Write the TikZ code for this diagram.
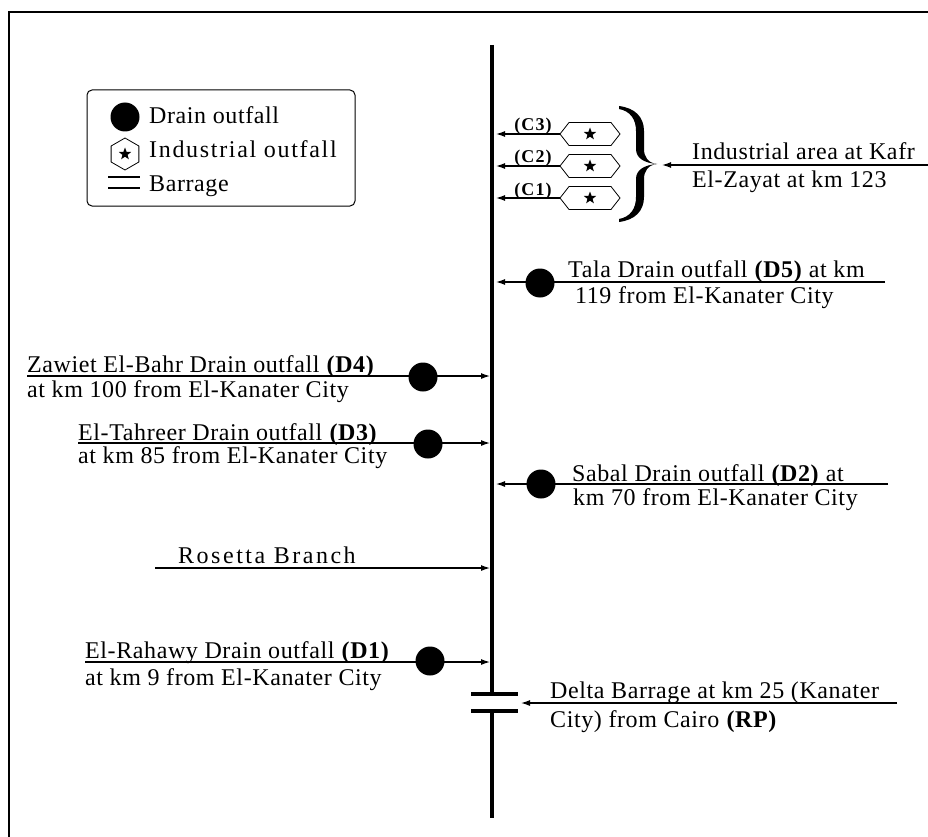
\documentclass[tikz,border=0pt]{standalone}
\usepackage{fontspec}
\setmainfont[LetterSpace=2.5]{Liberation Serif}
\usetikzlibrary{arrows.meta,shapes.geometric,decorations.pathreplacing}
\tikzset{
  txt/.style={anchor=base west, inner sep=0pt},
  drain/.style={circle, fill=black, minimum size=29pt, inner sep=0pt},
  starm/.style={star, star points=5, star point ratio=2.4, fill=black, minimum size=13pt, inner sep=0pt},
  hexv/.style={regular polygon, regular polygon sides=6, shape border rotate=90, draw, line width=0.8pt, minimum size=32pt, inner sep=0pt},
  arr/.style={-{Latex[length=9pt,width=6pt]}, line width=1.2pt},
  mainln/.style={line width=4pt},
  clab/.style={anchor=base, inner sep=0pt, font=\fontsize{18}{20}\selectfont\bfseries\addfontfeature{LetterSpace=6}},
  indhex/.pic={
    \draw[line width=0.8pt] (-30,0) -- (-21,-11.5) -- (21,-11.5) -- (30,0) -- (21,11.5) -- (-21,11.5) -- cycle;
    \node[starm] at (0,0) {};
  },
  bracepic/.pic={
    \fill (-37,-58) .. controls (-21,-56) and (-12,-47) .. (-12,-33) -- (-12,-15)
      .. controls (-12,-7) and (-8,-1) .. (1,0)
      .. controls (-12,-1) and (-20,-6) .. (-20,-15) -- (-20,-33)
      .. controls (-20,-45) and (-26,-53) .. (-37,-55) -- cycle;
    \fill[yscale=-1] (-37,-58) .. controls (-21,-56) and (-12,-47) .. (-12,-33) -- (-12,-15)
      .. controls (-12,-7) and (-8,-1) .. (1,0)
      .. controls (-12,-1) and (-20,-6) .. (-20,-15) -- (-20,-33)
      .. controls (-20,-45) and (-26,-53) .. (-37,-55) -- cycle;
  }
}
\begin{document}
\begin{tikzpicture}[x=1pt,y=-1pt,font=\fontsize{24}{28}\selectfont]
\useasboundingbox (0,0) rectangle (928,837);
\draw[line width=1.2pt] (9,837) -- (9,12) -- (928,12);

% legend
\draw[line width=1pt, rounded corners=5pt] (87,90) rectangle (355,206);
\node[drain] (lgD) at (125,117) {};
\node[txt] (lgDt) at (149,124) {Drain outfall};
\node[hexv] (lgH) at (125,154) {};
\node[starm] (lgS) at (lgH) {};
\node[txt] (lgHt) at (149,158) {\addfontfeature{LetterSpace=7}Industrial outfall};
\draw[line width=1.3pt] (108,177) -- (140,177);
\draw[line width=2.6pt] (108,188) -- (140,188);
\node[txt] (lgBt) at (149,191) {Barrage};

% main river line
\coordinate (top) at (492,45);
\coordinate (bar1) at (492,694);
\coordinate (bar2) at (492,711);
\coordinate (bot) at (492,818);
\draw[mainln] (top) -- (bar1);
\draw[mainln] (bar2) -- (bot);
\draw[mainln] (471,694) -- (518,694);
\draw[mainln] (471,711) -- (518,711);

% industrial outfalls
\pic at (590,134) {indhex};
\pic at (590,166) {indhex};
\pic at (590,198) {indhex};
\coordinate (c3) at (560,134); \coordinate (c3m) at (496,134);
\coordinate (c2) at (560,166); \coordinate (c2m) at (496,166);
\coordinate (c1) at (560,198); \coordinate (c1m) at (496,198);
\draw[arr] (c3) -- (c3m);
\draw[arr] (c2) -- (c2m);
\draw[arr] (c1) -- (c1m);
\node[clab] (c3l) at (533,131) {(C3)};
\node[clab] (c2l) at (533,163) {(C2)};
\node[clab] (c1l) at (533,195) {(C1)};
\pic at (656,164) {bracepic};
\coordinate (ia) at (928,165); \coordinate (iaT) at (662,165);
\draw[arr] (ia) -- (iaT);
\node[txt] (ia1) at (692,160) {Industrial area at Kafr};
\node[txt] (ia2) at (692,187) {El-Zayat at km 123};

% D5
\coordinate (d5s) at (885,282); \coordinate (d5m) at (496,282);
\draw[arr] (d5s) -- (d5m);
\node[drain] (d5) at (540,283) {};
\node[txt] (d5a) at (568,277) {Tala Drain outfall \textbf{(D5)} at km};
\node[txt] (d5b) at (575,303) {119 from El-Kanater City};

% D4
\coordinate (d4s) at (27,376); \coordinate (d4m) at (490,376);
\draw[arr] (d4s) -- (d4m);
\node[drain] (d4) at (423,377) {};
\node[txt] (d4a) at (27,372) {Zawiet El-Bahr Drain outfall \textbf{(D4)}};
\node[txt] (d4b) at (27,397) {at km 100 from El-Kanater City};

% D3
\coordinate (d3s) at (78,443); \coordinate (d3m) at (490,443);
\draw[arr] (d3s) -- (d3m);
\node[drain] (d3) at (428,444) {};
\node[txt] (d3a) at (78,440) {El-Tahreer Drain outfall \textbf{(D3)}};
\node[txt] (d3b) at (78,463) {at km 85 from El-Kanater City};

% D2
\coordinate (d2s) at (888,484); \coordinate (d2m) at (496,484);
\draw[arr] (d2s) -- (d2m);
\node[drain] (d2) at (541,484) {};
\node[txt] (d2a) at (572,481) {Sabal Drain outfall \textbf{(D2)} at};
\node[txt] (d2b) at (573,505) {km 70 from El-Kanater City};

% Rosetta
\coordinate (rbs) at (155,568); \coordinate (rbm) at (490,568);
\draw[arr] (rbs) -- (rbm);
\node[txt] (rb) at (178,563) {\addfontfeature{LetterSpace=10.5}Rosetta Branch};

% D1
\coordinate (d1s) at (85,662); \coordinate (d1m) at (490,662);
\draw[arr] (d1s) -- (d1m);
\node[drain] (d1) at (430,661) {};
\node[txt] (d1a) at (85,658) {El-Rahawy Drain outfall \textbf{(D1)}};
\node[txt] (d1b) at (85,685) {at km 9 from El-Kanater City};

% Delta Barrage
\coordinate (rps) at (897,703); \coordinate (rpm) at (521,703);
\draw[arr] (rps) -- (rpm);
\node[txt] (rpa) at (550,698) {Delta Barrage at km 25 (Kanater};
\node[txt] (rpb) at (550,727) {City) from Cairo \textbf{(RP)}};
\end{tikzpicture}
\end{document}
